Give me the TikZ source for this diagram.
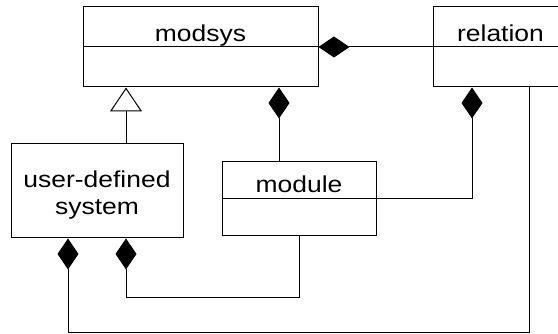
\documentclass[tikz,border=0pt]{standalone}
\usepackage{fontspec}
\setmainfont{Liberation Sans}[FakeStretch=1.15]
\usetikzlibrary{arrows.meta,calc}

\tikzset{
    umlclass/.style={draw, inner sep=0pt},
    umltitle/.style={anchor=base, inner sep=0pt, font=\fontsize{23}{27}\selectfont},
    comp/.style={{Diamond[length=31pt,width=21pt]}-},
    inherit/.style={-{Triangle[open,length=24pt,width=32pt]}},
}

\begin{document}
\begin{tikzpicture}[x=1pt, y=-1pt, line width=1pt]
    \useasboundingbox (0,0) rectangle (558,334);
    \node[umlclass, minimum width=235pt, minimum height=80pt] (modsys) at (200.5,47) {};
    \node[umlclass, minimum width=135pt, minimum height=80pt] (relation) at (500.5,47) {};
    \node[umlclass, minimum width=154pt, minimum height=74pt] (module) at (299,199) {};
    \node[umlclass, minimum width=172pt, minimum height=94pt] (userdef) at (97,191) {};
    \draw (modsys.west) -- (modsys.east);
    \draw (relation.west) -- (relation.east);
    \draw (module.west) -- (module.east);
    \node[umltitle] (modsys-name) at ($(modsys.center)+(0,-5)$) {modsys};
    \node[umltitle] (relation-name) at ($(relation.center)+(0,-5)$) {relation};
    \node[umltitle] (module-name) at ($(module.center)+(0,-6)$) {module};
    \node[umltitle, anchor=center, align=center] (userdef-name) at ($(userdef.center)+(0,4)$) {user-defined\\system};
    \coordinate (ud-l) at ($(userdef.south)+(-29,0)$);
    \coordinate (ud-r) at ($(userdef.south)+(29,0)$);
    \coordinate (rel-l) at ($(relation.south)+(-28.5,0)$);
    \coordinate (rel-r) at ($(relation.south)+(28.5,0)$);
    \coordinate (ms-r) at ($(modsys.south)+(78.5,0)$);
    \coordinate (bus1) at (0,298);
    \coordinate (bus2) at (0,333);
    \draw[comp] (modsys.east) -- (relation.west);
    \draw[inherit] (ud-r |- userdef.north) -- (ud-r |- modsys.south);
    \draw[comp] (ms-r) -- (ms-r |- module.north);
    \draw[comp] (rel-l) |- (module.east);
    \draw[comp] (ud-r) |- (module.south |- bus1) -- (module.south);
    \draw[comp] (ud-l) |- (rel-r |- bus2) -- (rel-r);
\end{tikzpicture}
\end{document}
